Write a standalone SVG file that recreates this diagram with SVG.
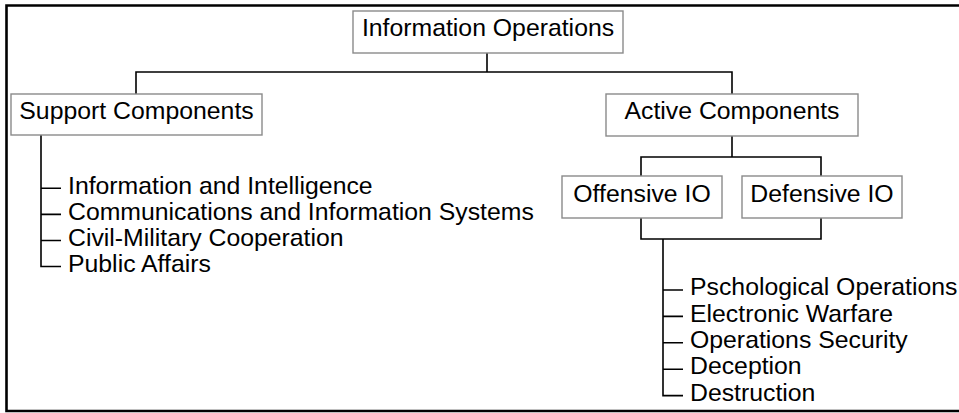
<svg xmlns="http://www.w3.org/2000/svg" width="959" height="413" viewBox="0 0 959 413">
<style>
.box{fill:#fff;stroke:#8a8a8a;stroke-width:1.4}
.lbl{font-family:"Liberation Sans",Arial,sans-serif;font-size:24.8px;fill:#000}
.c{text-anchor:middle}
.ln{fill:none;stroke:#000;stroke-width:1.6}
</style>
<rect width="959" height="413" fill="#fff"/>
<path d="M961 5.5 H6.5 V411 H961" fill="none" stroke="#000" stroke-width="2.6"/>
<g id="connectors" class="ln">
<path d="M487 53 V72 M136 94 V72 H732 V94"/>
<path d="M41 135 V266.5 H61 M41 188.3 H61 M41 214.4 H61 M41 240.5 H61"/>
<path d="M732 136 V157 M641 176 V157 H821 V176"/>
<path d="M641 218 V239 H821 V218 M663 239 V395.6 H683 M663 290 H683 M663 316.4 H683 M663 342.8 H683 M663 369.2 H683"/>
</g>
<g id="info-ops"><rect class="box" x="353" y="11" width="270" height="42"/><text class="lbl c" x="488" y="36">Information Operations</text></g>
<g id="support"><rect class="box" x="11" y="94" width="251" height="41"/><text class="lbl c" x="136.5" y="118.5">Support Components</text></g>
<g id="active"><rect class="box" x="606" y="94" width="252" height="42"/><text class="lbl c" x="732" y="118.5">Active Components</text></g>
<g id="offensive"><rect class="box" x="562" y="176" width="160" height="42"/><text class="lbl c" x="642" y="201.5">Offensive IO</text></g>
<g id="defensive"><rect class="box" x="742" y="176" width="160" height="42"/><text class="lbl c" x="822" y="201.5">Defensive IO</text></g>
<g id="support-list">
<text class="lbl" x="68" y="193.5">Information and Intelligence</text>
<text class="lbl" x="68" y="219.6">Communications and Information Systems</text>
<text class="lbl" x="68" y="245.7">Civil-Military Cooperation</text>
<text class="lbl" x="68" y="271.8">Public Affairs</text>
</g>
<g id="active-list">
<text class="lbl" x="690" y="295.2">Pschological Operations</text>
<text class="lbl" x="690" y="321.6">Electronic Warfare</text>
<text class="lbl" x="690" y="348">Operations Security</text>
<text class="lbl" x="690" y="374.4">Deception</text>
<text class="lbl" x="690" y="400.8">Destruction</text>
</g>
</svg>
